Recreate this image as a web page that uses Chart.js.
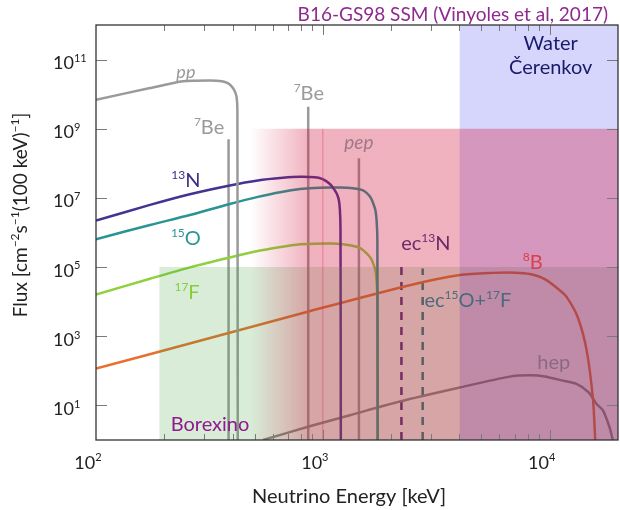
<!DOCTYPE html>
<html>
<head>
<meta charset="utf-8">
<title>Solar neutrino fluxes</title>
<script src="https://cdn.jsdelivr.net/npm/chart.js@4.4.1/dist/chart.umd.min.js"></script>
<style>
    body { margin: 0; background: #fff; }
    canvas { display: block; }
</style>
</head>
<body>
<canvas id="fluxChart" width="620" height="510"></canvas>
<script>
// Spectra: energy in keV, flux per cm^2 s 100 keV
const ppEnergy = [100, 173, 242, 318, 359, 381, 397, 410, 417, 420, 421.5];
const ppFlux = [6.9e9, 1.5e10, 2.35e10, 2.5e10, 2.38e10, 2.08e10, 1.65e10, 1.18e10, 7.9e9, 3.6e9, 1];

const n13Energy = [100, 173, 259, 389, 517, 667, 793, 923, 991, 1042, 1084, 1118, 1152, 1176, 1189, 1196, 1200];
const n13Flux = [2.2e6, 6.3e6, 1.28e7, 2.3e7, 3.2e7, 3.8e7, 4.06e7, 3.93e7, 3.56e7, 2.96e7, 2.38e7, 1.82e7, 1.31e7, 8.7e6, 4.5e6, 1.18e6, 1];

const o15Energy = [100, 173, 259, 389, 517, 667, 793, 970, 1189, 1355, 1485, 1563, 1627, 1666, 1704, 1725, 1739, 1744];
const o15Flux = [6.4e5, 1.65e6, 3.2e6, 6.7e6, 1.07e7, 1.5e7, 1.8e7, 1.98e7, 1.99e7, 1.91e7, 1.71e7, 1.37e7, 1.0e7, 7.0e6, 4.5e6, 2.3e6, 6.1e5, 1];

const f17Energy = [100, 173, 259, 389, 517, 716, 793, 1107, 1315, 1455, 1560, 1627, 1666, 1704, 1725, 1739, 1744];
const f17Flux = [1.6e4, 4.6e4, 9.8e4, 1.9e5, 2.9e5, 4.2e5, 4.6e5, 4.8e5, 4.3e5, 3.6e5, 2.5e5, 1.8e5, 1.28e5, 8.2e4, 4.2e4, 1.1e4, 1];

const b8Energy = [100, 287, 873, 2415, 4016, 5610, 7020, 8170, 9510, 11070, 11890, 13280, 14550, 15530, 15870];
const b8Flux = [116, 740, 5300, 3.0e4, 5.9e4, 6.8e4, 6.9e4, 6.3e4, 4.5e4, 2.15e4, 1.35e4, 3.6e3, 390, 14, 1];

const hepEnergy = [545, 875, 1315, 2183, 4016, 6667, 8170, 9510, 11270, 13120, 14850, 16090, 17170, 18370, 18970];
const hepFlux = [1, 2.5, 5.2, 13, 33, 68, 74, 69, 53, 42, 24, 11, 7.2, 2.3, 1];

// Line sources: energy and peak flux
const lineNames = ['7Be', '7Be', 'pep', 'ec13N', 'ec15O+17F'];
const lineEnergy = [384, 862, 1442, 2220, 2754];
const lineFlux = [5.0e8, 4.3e9, 1.4e8, 1.4e5, 9.1e4];

// Detector sensitivity regions: [from energy, to energy], flux ceiling
const borexinoRange = [190, 20000];
const borexinoTop = 1e5;
const pinkRange = [480, 20000];
const pinkTop = 1e9;
const cerenkovRange = [4000, 20000];
const cerenkovTop = 1e12;

// Axis ticks
const xTicks = [200, 300, 400, 500, 600, 700, 800, 900, 1000, 2000, 3000, 4000, 5000, 6000, 7000, 8000, 9000, 10000];
const xMajor = [100, 1000, 10000];
const yTicks = [10, 1e3, 1e5, 1e7, 1e9, 1e11];

const FONT = 'Lato, "Open Sans", sans-serif';

// Text labels placed at data coordinates (centre of the text)
const annotations = [
    { text: 'pp', e: 249, f: 4.5e10, color: '#9a9a9a', size: 18, italic: true },
    { text: '^{7}Be', e: 315, f: 1.15e9, color: '#9a9a9a', size: 20 },
    { text: '^{7}Be', e: 867, f: 1.1e10, color: '#9a9a9a', size: 20 },
    { text: 'pep', e: 1442, f: 4.2e8, color: '#a07888', size: 19, italic: true },
    { text: '^{13}N', e: 249, f: 3.3e7, color: '#3c2d8c', size: 20 },
    { text: '^{15}O', e: 249, f: 6.9e5, color: '#2a9595', size: 20 },
    { text: '^{17}F', e: 252, f: 1.9e4, color: '#88cc3a', size: 20 },
    { text: 'ec^{13}N', e: 2843, f: 5.2e5, color: '#6a2a6a', size: 20 },
    { text: 'ec^{15}O+^{17}F', e: 4356, f: 1.1e4, color: '#4a6a7e', size: 20 },
    { text: '^{8}B', e: 8414, f: 1.4e5, color: '#d8404a', size: 20 },
    { text: 'hep', e: 10420, f: 178, color: '#8a6a82', size: 20 },
    { text: 'Borexino', e: 318, f: 3.0, color: '#8e1a8e', size: 20 },
    { text: 'Water', e: 10100, f: 3.1e11, color: '#1a1a6a', size: 20 },
    { text: 'Čerenkov', e: 10100, f: 6.3e10, color: '#1a1a6a', size: 20 }
];

// Split "ec^{13}N" into normal and superscript pieces
function parseRich(str) {
    const segs = [];
    const parts = str.split(/\^\{([^}]*)\}/);
    parts.forEach((p, i) => {
        if (p !== '') segs.push({ t: p, sup: i % 2 === 1 });
    });
    return segs;
}

// Draw text with superscripts, y is the baseline
function drawRich(ctx, str, x, y, size, color, align, italic) {
    const segs = parseRich(str);
    const fontFor = sup => (italic ? 'italic ' : '') + (sup ? Math.round(size * 0.62) : size) + 'px ' + FONT;
    let w = 0;
    segs.forEach(s => {
        ctx.font = fontFor(s.sup);
        w += ctx.measureText(s.t).width;
    });
    let cx = align === 'center' ? x - w / 2 : (align === 'right' ? x - w : x);
    ctx.fillStyle = color;
    ctx.textAlign = 'left';
    ctx.textBaseline = 'alphabetic';
    segs.forEach(s => {
        ctx.font = fontFor(s.sup);
        ctx.fillText(s.t, cx, s.sup ? y - size * 0.4 : y);
        cx += ctx.measureText(s.t).width;
    });
}

function toPoints(xs, ys) {
    return xs.map((x, i) => ({ x: x, y: ys[i] }));
}

function spectrum(xs, ys, color) {
    return {
        data: toPoints(xs, ys),
        borderColor: color,
        borderWidth: 2.5,
        pointRadius: 0,
        fill: false,
        tension: 0.25,
        order: 5
    };
}

function lineSource(i, color, dash) {
    return {
        data: toPoints([lineEnergy[i], lineEnergy[i]], [1, lineFlux[i]]),
        borderColor: color,
        borderWidth: 2.5,
        borderDash: dash || [],
        pointRadius: 0,
        fill: false,
        order: 5
    };
}

function region(range, top, color, order) {
    return {
        data: toPoints(range, [top, top]),
        borderColor: 'rgba(0,0,0,0)',
        borderWidth: 0,
        pointRadius: 0,
        backgroundColor: color,
        fill: 'start',
        order: order
    };
}

// Pink band fades in from the left
function pinkFill(context) {
    const chart = context.chart;
    if (!chart.chartArea || !chart.scales.x) return 'rgba(210,20,60,0.33)';
    const x0 = chart.scales.x.getPixelForValue(pinkRange[0]);
    const x1 = chart.scales.x.getPixelForValue(1000);
    const g = chart.ctx.createLinearGradient(x0, 0, x1, 0);
    g.addColorStop(0, 'rgba(210,20,60,0)');
    g.addColorStop(0.8, 'rgba(210,20,60,0.33)');
    g.addColorStop(1, 'rgba(210,20,60,0.33)');
    return g;
}

const decorations = {
    id: 'decorations',
    afterDatasetsDraw(chart) {
        const ctx = chart.ctx;
        const area = chart.chartArea;
        const xs = chart.scales.x;
        const ys = chart.scales.y;
        ctx.save();
        // inward ticks on all sides
        ctx.strokeStyle = '#7a7a7a';
        ctx.lineWidth = 1;
        ctx.beginPath();
        xTicks.forEach(v => {
            const px = Math.round(xs.getPixelForValue(v)) + 0.5;
            const len = xMajor.includes(v) ? 10 : 6;
            ctx.moveTo(px, area.bottom);
            ctx.lineTo(px, area.bottom - len);
            ctx.moveTo(px, area.top);
            ctx.lineTo(px, area.top + len);
        });
        yTicks.forEach(v => {
            const py = Math.round(ys.getPixelForValue(v)) + 0.5;
            ctx.moveTo(area.left, py);
            ctx.lineTo(area.left + 11, py);
            ctx.moveTo(area.right, py);
            ctx.lineTo(area.right - 11, py);
        });
        ctx.stroke();
        // frame
        ctx.strokeStyle = '#333';
        ctx.lineWidth = 1.3;
        ctx.strokeRect(area.left, area.top, area.right - area.left, area.bottom - area.top);
        ctx.restore();
    },
    afterDraw(chart) {
        const ctx = chart.ctx;
        const area = chart.chartArea;
        const xs = chart.scales.x;
        const ys = chart.scales.y;
        ctx.save();
        annotations.forEach(a => {
            const px = xs.getPixelForValue(a.e);
            const py = ys.getPixelForValue(a.f);
            drawRich(ctx, a.text, px, py + a.size * 0.36, a.size, a.color, 'center', a.italic);
        });
        // tick labels
        yTicks.forEach(v => {
            const py = ys.getPixelForValue(v);
            drawRich(ctx, '10^{' + Math.round(Math.log10(v)) + '}', area.left - 43, py + 9.5, 18, '#222', 'left');
        });
        xMajor.forEach(v => {
            const px = xs.getPixelForValue(v);
            drawRich(ctx, '10^{' + Math.round(Math.log10(v)) + '}', px - 8, 468.5, 18, '#222', 'center');
        });
        // axis titles
        drawRich(ctx, 'Neutrino Energy [keV]', (area.left + area.right) / 2 - 8, 503, 20, '#222', 'center');
        ctx.translate(20, 215);
        ctx.rotate(-Math.PI / 2);
        drawRich(ctx, 'Flux [cm^{\u22122}s^{\u22121}(100 keV)^{\u22121}]', 0, 7, 19, '#222', 'center');
        ctx.restore();
        // title
        drawRich(ctx, 'B16-GS98 SSM (Vinyoles et al, 2017)', 608, 20.5, 19, '#8e2a8e', 'right');
    }
};

const datasets = [
    region(pinkRange, pinkTop, pinkFill, 0),
    {
        data: toPoints([1000, 1000], [1, pinkTop]),
        borderColor: 'rgba(225,60,95,0.45)',
        borderWidth: 1,
        pointRadius: 0,
        fill: false,
        order: 0
    },
    region(cerenkovRange, cerenkovTop, 'rgba(0,0,240,0.16)', 1),
    region(borexinoRange, borexinoTop, 'rgba(60,160,60,0.2)', 2),
    spectrum(ppEnergy, ppFlux, '#9a9a9a'),
    spectrum(n13Energy, n13Flux, '#463292'),
    spectrum(o15Energy, o15Flux, '#2a9393'),
    spectrum(f17Energy, f17Flux, '#8fd03f'),
    spectrum(b8Energy, b8Flux, '#e8702e'),
    spectrum(hepEnergy, hepFlux, '#888888'),
    lineSource(0, '#9a9a9a'),
    lineSource(1, '#9a9a9a'),
    lineSource(2, '#9a9a9a'),
    lineSource(3, '#4a2080', [8, 7]),
    lineSource(4, '#1a7a80', [8, 7])
];

new Chart(document.getElementById('fluxChart'), {
    type: 'line',
    data: { datasets: datasets },
    options: {
        responsive: false,
        devicePixelRatio: 1,
        animation: false,
        events: [],
        layout: { padding: { top: 25, right: 2, left: 0, bottom: 0 } },
        plugins: {
            legend: { display: false },
            tooltip: { enabled: false }
        },
        scales: {
            x: {
                type: 'logarithmic',
                min: 100,
                max: 20000,
                grid: { display: false },
                border: { display: false },
                ticks: { display: false },
                afterFit: scale => { scale.height = 70; }
            },
            y: {
                type: 'logarithmic',
                min: 1,
                max: 1e12,
                grid: { display: false },
                border: { display: false },
                ticks: { display: false },
                afterFit: scale => { scale.width = 96; }
            }
        }
    },
    plugins: [decorations]
});
</script>
</body>
</html>
